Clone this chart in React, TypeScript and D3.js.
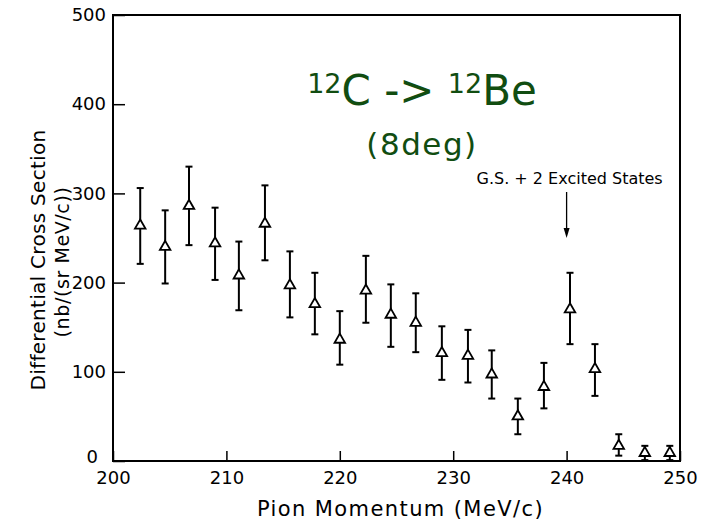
import React, { useEffect, useRef } from "react";
import * as d3 from "d3";

// pion momentum (MeV/c) for each measured bin
const momentum = [202.4, 204.6, 206.7, 209.0, 211.1, 213.4, 215.6, 217.8, 220.0, 222.3, 224.5, 226.7, 229.0, 231.3, 233.4, 235.7, 238.0, 240.3, 242.5, 244.6, 246.9, 249.1];
// differential cross section nb/(sr MeV/c)
const crossSection = [264, 240, 286, 244, 208, 266, 197, 176, 136, 191, 164, 155, 121, 118, 97, 50, 83, 170, 103, 17, 9, 9];
const errUpper = [306, 281, 330, 284, 246, 309, 235, 211, 168, 230, 198, 188, 151, 147, 124, 70, 110, 211, 131, 30, 17, 17];
const errLower = [221, 199, 242, 203, 169, 225, 161, 142, 108, 155, 128, 122, 91, 88, 70, 30, 59, 131, 73, 6, 1, 1];

const xTicks = [200, 210, 220, 230, 240, 250];
const yTicks = [0, 100, 200, 300, 400, 500];

const annotationText = "G.S. + 2 Excited States";
const annotationAt = 240;

const W = 702;
const H = 521;
const FONT = "'DejaVu Sans', sans-serif";

const App = () => {
  const svgRef = useRef<SVGSVGElement>(null);

  useEffect(() => {
    const svg = d3.select(svgRef.current);
    svg.selectAll("*").remove(); //clear before redraw

    const margin = { top: 15, right: 22, bottom: 60, left: 113 };

    const x = d3.scaleLinear().domain([200, 250]).range([margin.left, W - margin.right]);
    const y = d3.scaleLinear().domain([0, 500]).range([H - margin.bottom, margin.top]);

    const points = momentum.map((m, i) => ({
      m,
      v: crossSection[i],
      hi: errUpper[i],
      lo: errLower[i],
    }));

    //frame
    svg
      .append("rect")
      .attr("x", x(200))
      .attr("y", y(500))
      .attr("width", x(250) - x(200))
      .attr("height", y(0) - y(500))
      .attr("fill", "none")
      .attr("stroke", "#000")
      .attr("stroke-width", 2);

    //x axis (ticks point inward)
    const xAxis = svg
      .append("g")
      .attr("transform", `translate(0, ${y(0)})`)
      .call(d3.axisBottom(x).tickValues(xTicks).tickSizeInner(-10).tickSizeOuter(0).tickPadding(10));
    xAxis.select(".domain").remove();
    xAxis.selectAll("line").attr("stroke-width", 1.5);
    xAxis
      .selectAll("text")
      .attr("font-family", FONT)
      .attr("font-size", 18)
      .attr("fill", "#000");

    //y axis
    const yAxis = svg
      .append("g")
      .attr("transform", `translate(${x(200)}, 0)`)
      .call(d3.axisLeft(y).tickValues(yTicks).tickSizeInner(-12).tickSizeOuter(0).tickPadding(7));
    yAxis.select(".domain").remove();
    yAxis.selectAll("line").attr("stroke-width", 1.5);
    yAxis
      .selectAll("text")
      .attr("font-family", FONT)
      .attr("font-size", 18)
      .attr("fill", "#000");
    //the zero label sits a bit further left and higher
    yAxis
      .selectAll(".tick")
      .filter((d) => d === 0)
      .select("text")
      .attr("x", -15)
      .attr("dy", "0.1em");

    //axis titles
    svg
      .append("text")
      .attr("x", (x(200) + x(250)) / 2 + 4)
      .attr("y", 516)
      .attr("text-anchor", "middle")
      .attr("font-family", FONT)
      .attr("font-size", 21)
      .attr("letter-spacing", 1.4)
      .text("Pion Momentum (MeV/c)");

    const yLab = svg.append("text").attr("transform", "rotate(-90)").attr("font-family", FONT).attr("text-anchor", "middle");
    yLab
      .append("tspan")
      .attr("x", -260)
      .attr("y", 45)
      .attr("font-size", 20)
      .attr("letter-spacing", 0.3)
      .text("Differential Cross Section");
    yLab
      .append("tspan")
      .attr("x", -262)
      .attr("y", 69)
      .attr("font-size", 19)
      .attr("letter-spacing", 0.6)
      .text("(nb/(sr MeV/c))");

    //error bars
    const bars = svg.append("g").attr("stroke", "#000").attr("stroke-width", 2);
    points.forEach((d) => {
      bars.append("line").attr("x1", x(d.m)).attr("x2", x(d.m)).attr("y1", y(d.hi)).attr("y2", y(d.lo));
      bars.append("line").attr("x1", x(d.m) - 3.5).attr("x2", x(d.m) + 3.5).attr("y1", y(d.hi)).attr("y2", y(d.hi));
      bars.append("line").attr("x1", x(d.m) - 3.5).attr("x2", x(d.m) + 3.5).attr("y1", y(d.lo)).attr("y2", y(d.lo));
    });

    //open triangles
    const tri = d3.symbol().type(d3.symbolTriangle).size(48);
    svg
      .append("g")
      .selectAll("path")
      .data(points)
      .enter()
      .append("path")
      .attr("d", tri)
      .attr("transform", (d) => `translate(${x(d.m)}, ${y(d.v)})`)
      .attr("fill", "#fff")
      .attr("stroke", "#000")
      .attr("stroke-width", 1.8);

    //annotation with arrow
    svg
      .append("text")
      .attr("x", x(annotationAt) + 3)
      .attr("y", 184)
      .attr("text-anchor", "middle")
      .attr("font-family", FONT)
      .attr("font-size", 16)
      .text(annotationText);
    svg
      .append("line")
      .attr("x1", x(annotationAt))
      .attr("x2", x(annotationAt))
      .attr("y1", 192)
      .attr("y2", 230)
      .attr("stroke", "#000")
      .attr("stroke-width", 1.3);
    svg
      .append("path")
      .attr("d", `M${x(annotationAt) - 3},228 L${x(annotationAt) + 3},228 L${x(annotationAt)},238 Z`)
      .attr("fill", "#000");

    //title in green
    const green = "#114d11";
    const t1 = svg
      .append("text")
      .attr("x", 422)
      .attr("y", 105)
      .attr("text-anchor", "middle")
      .attr("font-family", FONT)
      .attr("fill", green);
    t1.append("tspan").attr("font-size", 27).attr("dy", -12).text("12");
    t1.append("tspan").attr("font-size", 42).attr("dy", 12).text("C -> ");
    t1.append("tspan").attr("font-size", 27).attr("dy", -12).text("12");
    t1.append("tspan").attr("font-size", 42).attr("dy", 12).text("Be");

    svg
      .append("text")
      .attr("x", 422)
      .attr("y", 155)
      .attr("text-anchor", "middle")
      .attr("font-family", FONT)
      .attr("font-size", 31)
      .attr("letter-spacing", 1.5)
      .attr("fill", green)
      .text("(8deg)");
  }, []);

  return (
    <svg
      ref={svgRef}
      width={W}
      height={H}
      style={{ position: "absolute", left: 0, top: 0, background: "#fff" }}
    />
  );
};

export default App;
